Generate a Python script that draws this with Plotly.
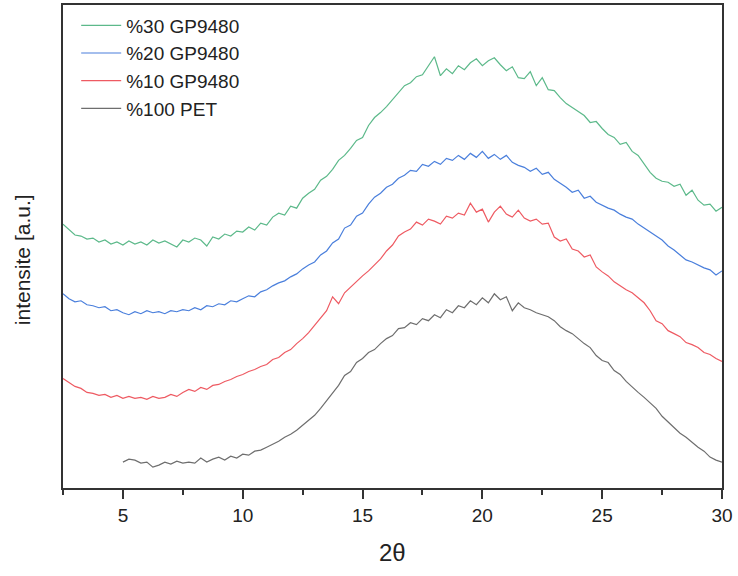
import numpy as np
import plotly.graph_objects as go

# 2-theta sampling: 0.25 deg steps
series_names = ["%30 GP9480", "%20 GP9480", "%10 GP9480", "%100 PET"]
series_colors = ["#5cb98a", "#4a7fdc", "#ee5a62", "#6e6e6e"]

x_start_gp = 2.5
x_start_pet = 5.0
x_end = 30.0

gp30 = [265, 259, 254, 253, 250, 251, 247, 249, 245, 247, 244, 248, 245, 247, 244, 249,
        246, 248, 245, 242, 249, 247, 251, 249, 243, 252, 250, 255, 253, 258, 257, 262,
        259, 266, 264, 272, 276, 274, 283, 281, 291, 296, 300, 309, 313, 320, 329, 334,
        341, 349, 352, 364, 372, 377, 383, 390, 396, 404, 407, 413, 415, 424, 433, 414,
        421, 416, 424, 420, 427, 431, 424, 429, 432, 425, 419, 423, 412, 411, 418, 404,
        412, 400, 399, 392, 386, 382, 378, 374, 367, 368, 361, 355, 352, 345, 347, 338,
        334, 325, 317, 311, 308, 307, 303, 305, 294, 299, 289, 284, 285, 278, 282]

gp20 = [195, 190, 187, 188, 184, 183, 181, 182, 178, 179, 176, 174, 177, 175, 178, 176,
        177, 175, 178, 177, 179, 178, 181, 179, 183, 182, 185, 184, 188, 187, 190, 193,
        192, 197, 199, 203, 206, 208, 212, 215, 220, 224, 227, 234, 238, 246, 250, 261,
        264, 273, 276, 285, 292, 296, 302, 305, 311, 314, 319, 318, 325, 323, 328, 325,
        331, 329, 334, 330, 336, 332, 338, 331, 335, 330, 334, 327, 324, 322, 318, 321,
        315, 317, 310, 306, 302, 297, 299, 291, 293, 287, 284, 281, 279, 275, 272, 270,
        265, 261, 257, 253, 249, 243, 239, 234, 229, 227, 224, 221, 219, 214, 218]

gp10 = [110, 106, 102, 100, 96, 95, 93, 94, 91, 93, 90, 92, 90, 91, 89, 92,
        90, 91, 94, 92, 96, 99, 97, 101, 99, 103, 104, 107, 109, 112, 114, 117,
        119, 122, 124, 129, 131, 136, 139, 145, 150, 156, 163, 170, 178, 192, 185, 196,
        202, 207, 213, 218, 224, 230, 238, 244, 253, 257, 260, 267, 264, 270, 268, 265,
        273, 271, 276, 274, 286, 277, 280, 267, 277, 283, 275, 272, 279, 271, 268, 270,
        265, 266, 252, 248, 250, 240, 238, 232, 234, 222, 217, 213, 207, 203, 199, 196,
        191, 186, 178, 168, 165, 158, 155, 152, 146, 144, 141, 136, 134, 130, 127]

pet100 = [26, 29, 28, 25, 26, 21, 23, 26, 24, 27, 25, 26, 25, 30, 26, 29,
          31, 28, 32, 30, 34, 33, 37, 38, 41, 44, 47, 51, 54, 58, 63, 68,
          73, 80, 88, 96, 103, 113, 117, 126, 130, 136, 139, 145, 150, 153, 160, 161,
          166, 164, 170, 168, 174, 171, 179, 176, 183, 181, 188, 184, 191, 186, 195, 189,
          192, 178, 186, 181, 179, 176, 174, 172, 168, 162, 158, 155, 150, 145, 141, 133,
          128, 126, 118, 114, 107, 101, 96, 91, 85, 80, 72, 66, 60, 55, 51, 46,
          41, 37, 31, 28, 26]

x_ticks = [5, 10, 15, 20, 25, 30]
x_tick_labels = ["5", "10", "15", "20", "25", "30"]

data = [gp30, gp20, gp10, pet100]
starts = [x_start_gp, x_start_gp, x_start_gp, x_start_pet]

fig = go.Figure()
for name, color, ys, xs0 in zip(series_names, series_colors, data, starts):
    xs = np.linspace(xs0, x_end, len(ys))
    fig.add_trace(go.Scatter(x=xs, y=ys, mode="lines", name=name,
                             line=dict(color=color, width=1.2)))

font_family = "Liberation Sans, Arial, sans-serif"
fig.update_layout(
    width=738, height=576,
    margin=dict(l=63, r=16, t=3, b=88),
    paper_bgcolor="white", plot_bgcolor="white",
    font=dict(family=font_family, color="#222222"),
    showlegend=True,
    legend=dict(x=0.02, y=0.997, xanchor="left", yanchor="top",
                bgcolor="rgba(0,0,0,0)", font=dict(size=19, color="#222222"),
                traceorder="normal", itemwidth=40, tracegroupgap=0),
    xaxis=dict(range=[2.5, 30], tickvals=x_ticks, ticktext=x_tick_labels,
               ticks="outside", ticklen=9, tickwidth=2, tickcolor="#333333",
               minor=dict(dtick=2.5, tick0=0, ticks="outside", ticklen=5,
                          tickwidth=2, tickcolor="#333333"),
               showline=True, linewidth=2, linecolor="#333333", mirror=True,
               showgrid=False, zeroline=False,
               tickfont=dict(size=19, color="#222222")),
    yaxis=dict(range=[0, 485], showticklabels=False, ticks="",
               showline=True, linewidth=2, linecolor="#333333", mirror=True,
               showgrid=False, zeroline=False),
    annotations=[
        dict(text="2θ", xref="paper", yref="paper", x=0.5, y=-0.134,
             xanchor="center", yanchor="middle", showarrow=False,
             font=dict(size=24, color="#222222", family=font_family)),
        dict(text="intensite [a.u.]", xref="paper", yref="paper", x=-0.062, y=0.472,
             xanchor="center", yanchor="middle", textangle=-90, showarrow=False,
             font=dict(size=21, color="#222222", family=font_family)),
    ],
)

fig.write_html("out.html")
